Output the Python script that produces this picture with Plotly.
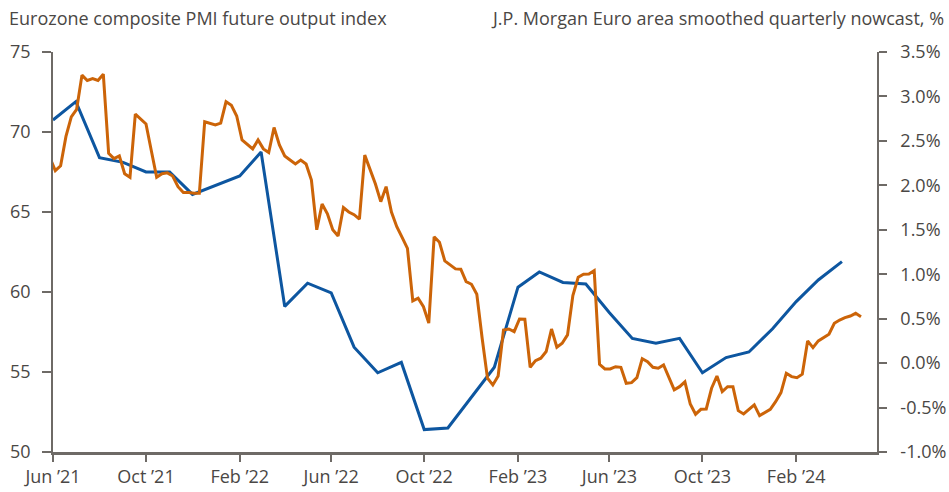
import pandas as pd
import plotly.graph_objects as go

# Eurozone composite PMI future output index (monthly)
pmi_months = pd.date_range("2021-06-01", "2024-04-01", freq="MS")
pmi_values = [
    70.75, 71.9, 68.4, 68.1, 67.5, 67.5, 66.1, 66.7, 67.25, 68.75,
    59.1, 60.55, 59.95, 56.55, 54.95, 55.6, 51.4, 51.5, 53.4, 55.3,
    60.3, 61.25, 60.6, 60.5, 58.7, 57.1, 56.8, 57.1, 54.95, 55.9,
    56.25, 57.7, 59.4, 60.75, 61.9,
]

# J.P. Morgan Euro area smoothed quarterly nowcast, % (weekly)
nowcast_weeks = pd.date_range("2021-05-28", periods=153, freq="7D")
nowcast_values = [
    2.31, 2.165, 2.22, 2.55, 2.77, 2.855, 3.24, 3.18, 3.20, 3.18,
    3.25, 2.36, 2.30, 2.33, 2.13, 2.09, 2.80, 2.74, 2.69, 2.39,
    2.09, 2.13, 2.14, 2.105, 1.985, 1.92, 1.92, 1.91, 1.91, 2.716,
    2.70, 2.68, 2.70, 2.94, 2.90, 2.78, 2.51, 2.455, 2.41, 2.51,
    2.41, 2.37, 2.65, 2.455, 2.33, 2.285, 2.24, 2.285, 2.24, 2.06,
    1.50, 1.79, 1.68, 1.50, 1.43, 1.75, 1.70, 1.67, 1.62, 2.34,
    2.17, 2.015, 1.816, 1.985, 1.70, 1.535, 1.415, 1.29, 0.70, 0.73,
    0.635, 0.45, 1.42, 1.36, 1.15, 1.10, 1.06, 1.056, 0.916, 0.887,
    0.775, 0.28, -0.17, -0.246, -0.145, 0.373, 0.384, 0.354, 0.497, 0.494,
    -0.047, 0.028, 0.055, 0.13, 0.384, 0.178, 0.223, 0.317, 0.76, 0.966,
    1.0, 1.003, 1.04, -0.013, -0.066, -0.066, -0.04, -0.047, -0.227, -0.22,
    -0.164, 0.05, 0.016, -0.047, -0.058, -0.02, -0.17, -0.30, -0.265, -0.21,
    -0.46, -0.575, -0.52, -0.516, -0.283, -0.145, -0.32, -0.265, -0.265, -0.535,
    -0.572, -0.52, -0.47, -0.59, -0.557, -0.52, -0.434, -0.332, -0.114, -0.152,
    -0.164, -0.125, 0.25, 0.174, 0.25, 0.29, 0.325, 0.448, 0.485, 0.511,
    0.53, 0.56, 0.522,
]

# Axis ticks
x_tick_dates = ["2021-06-01", "2021-10-01", "2022-02-01", "2022-06-01", "2022-10-01",
                "2023-02-01", "2023-06-01", "2023-10-01", "2024-02-01"]
x_tick_labels = ["Jun ’21", "Oct ’21", "Feb ’22", "Jun ’22", "Oct ’22",
                 "Feb ’23", "Jun ’23", "Oct ’23", "Feb ’24"]
left_ticks = [50, 55, 60, 65, 70, 75]
right_ticks = [-1.0, -0.5, 0.0, 0.5, 1.0, 1.5, 2.0, 2.5, 3.0, 3.5]
right_tick_labels = ["-1.0%", "-0.5%", "0.0%", "0.5%", "1.0%", "1.5%",
                     "2.0%", "2.5%", "3.0%", "3.5%"]

BLUE = "#0d56a0"
ORANGE = "#cc6408"
AXIS = "#6e6a66"
TEXT = "#4a4745"
FONT = "Open Sans"
SIZE = 18

fig = go.Figure()
fig.add_trace(go.Scatter(
    x=nowcast_weeks, y=nowcast_values, mode="lines", yaxis="y2",
    line=dict(color=ORANGE, width=3), name="Nowcast",
))
fig.add_trace(go.Scatter(
    x=pmi_months, y=pmi_values, mode="lines", yaxis="y",
    line=dict(color=BLUE, width=3), name="PMI future output",
))

fig.update_layout(
    width=949, height=492,
    margin=dict(l=53, r=72, t=52, b=40),
    paper_bgcolor="white", plot_bgcolor="white",
    showlegend=False,
    font=dict(family=FONT, size=SIZE, color=TEXT),
    xaxis=dict(
        range=["2021-06-01", "2024-05-17"],
        tickvals=x_tick_dates, ticktext=x_tick_labels,
        showgrid=False, zeroline=False, automargin=False,
        showline=True, linecolor=AXIS, linewidth=2.5,
        ticks="outside", ticklen=7, tickwidth=1.5, tickcolor=AXIS,
        ticklabelstandoff=0,
        tickfont=dict(size=SIZE, color=TEXT),
    ),
    yaxis=dict(
        range=[50, 75], tickvals=left_ticks,
        showgrid=False, zeroline=False, automargin=False,
        showline=True, linecolor=AXIS, linewidth=1.5,
        ticks="outside", ticklen=9, tickwidth=1.5, tickcolor=AXIS,
        ticklabelstandoff=8,
        tickfont=dict(size=SIZE, color=TEXT),
    ),
    yaxis2=dict(
        range=[-1.0, 3.5], tickvals=right_ticks, ticktext=right_tick_labels,
        overlaying="y", side="right",
        showgrid=False, zeroline=False, automargin=False,
        showline=True, linecolor=AXIS, linewidth=1.5,
        ticks="outside", ticklen=8, tickwidth=1.5, tickcolor=AXIS,
        ticklabelstandoff=10,
        tickfont=dict(size=SIZE, color=TEXT),
    ),
    annotations=[
        dict(text="Eurozone composite PMI future output index",
             xref="paper", yref="paper", x=0, y=1, xanchor="left", yanchor="middle",
             xshift=-46, yshift=34, showarrow=False,
             font=dict(family=FONT, size=SIZE, color=TEXT)),
        dict(text="J.P. Morgan Euro area smoothed quarterly nowcast, %",
             xref="paper", yref="paper", x=1, y=1, xanchor="right", yanchor="middle",
             xshift=69, yshift=34, showarrow=False,
             font=dict(family=FONT, size=SIZE, color=TEXT)),
    ],
)

fig.write_html("out.html")
